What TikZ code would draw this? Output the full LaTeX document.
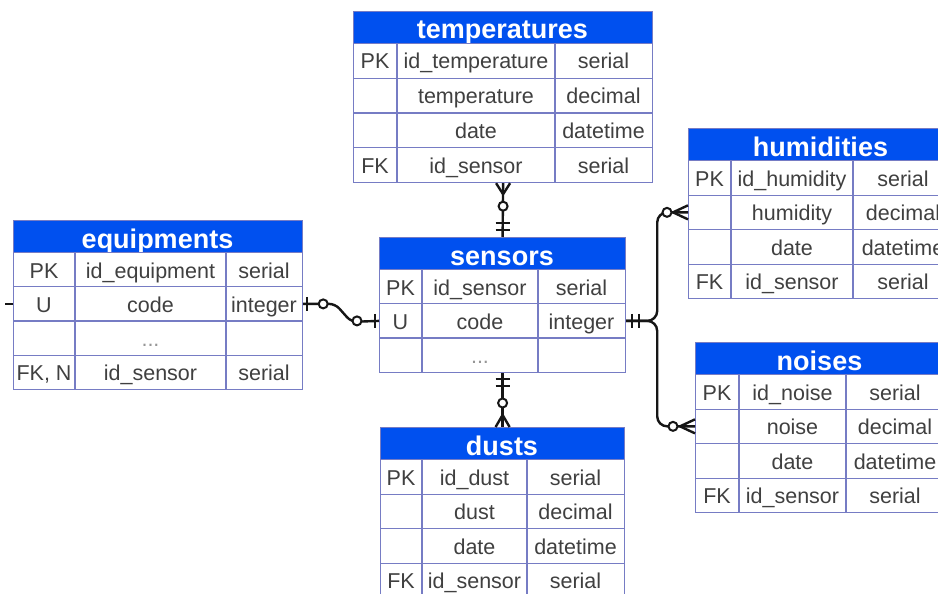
\documentclass[tikz,border=0pt]{standalone}
\usepackage{fontspec}
\setmainfont{Liberation Sans}
\usetikzlibrary{calc}
\definecolor{titleblue}{RGB}{0,80,239}
\definecolor{gridc}{RGB}{118,124,196}
\definecolor{txt}{RGB}{64,64,64}
\definecolor{lnk}{RGB}{22,22,22}

\tikzset{
  titlebox/.style={draw=gridc, fill=titleblue, line width=1.2pt, inner sep=0pt, anchor=north west, minimum height=32pt},
  rowbox/.style={draw=gridc, fill=white, line width=1.2pt, inner sep=0pt, anchor=north west},
  gridline/.style={draw=gridc, line width=1.2pt},
  cell/.style={font=\fontsize{21.5}{22}\selectfont, text=txt, anchor=base, inner sep=0pt},
  ttl/.style={font=\bfseries\fontsize{27}{28}\selectfont, text=white, anchor=base, inner sep=0pt},
  conn/.style={draw=lnk, line width=2.4pt},
  barline/.style={draw=lnk, line width=2pt},
  ring/.style={circle, draw=lnk, fill=white, line width=2pt, minimum size=9pt, inner sep=0pt},
}

\newcommand\ertable[9]{%
  \pgfmathsetmacro\tw{#4-#3}%
  \pgfmathsetmacro\cx{(#3+#4)/2}%
  \node[titlebox, minimum width=\tw pt] (#1) at (#3,#5) {};
  \node[ttl] (#1-t) at (\cx,#5+28) {#2};
  \foreach [count=\i] \k/\f/\t in {#9} {
    \pgfmathsetmacro\ry{#5+32+(\i-1)*#8}
    \node[rowbox, minimum width=\tw pt, minimum height=#8 pt] (#1-\i) at (#3,\ry) {};
    \draw[gridline] (#6,\ry) -- ++(0,#8);
    \draw[gridline] (#7,\ry) -- ++(0,#8);
    \node[cell] (#1-\i-k) at ({(#3+#6)/2},\ry+26) {\k};
    \node[cell] (#1-\i-f) at ({(#6+#7)/2},\ry+26) {\f};
    \node[cell] (#1-\i-t) at ({(#7+#4)/2},\ry+26) {\t};
  }
}

\begin{document}
\begin{tikzpicture}[x=1pt,y=-1pt]
\fill[white] (0,0) rectangle (938,594);
\useasboundingbox (0,0) rectangle (938,594);
\clip (0,0) rectangle (938,594);

\ertable{temp}{temperatures}{353}{652}{11}{397}{555}{34.75}{PK/id\_temperature/serial,{}/temperature/decimal,{}/date/datetime,FK/id\_sensor/serial}
\ertable{equip}{equipments}{13}{302}{220}{75}{226}{34.2}{PK/id\_equipment/serial,U/code/integer,{}/\textcolor{txt!55}{...}/{},{FK, N}/id\_sensor/serial}
\ertable{sens}{sensors}{379}{625}{237}{422}{538}{34.2}{PK/id\_sensor/serial,U/code/integer,{}/\textcolor{txt!55}{...}/{}}
\ertable{dust}{dusts}{380}{624}{427}{422}{527}{34.5}{PK/id\_dust/serial,{}/dust/decimal,{}/date/datetime,FK/id\_sensor/serial}
\ertable{hum}{humidities}{688}{953}{128}{731}{853}{34.5}{PK/id\_humidity/serial,{}/humidity/decimal,{}/date/datetime,FK/id\_sensor/serial}
\ertable{noise}{noises}{695}{944}{342}{739}{846}{34.5}{PK/id\_noise/serial,{}/noise/decimal,{}/date/datetime,FK/id\_sensor/serial}

% temperatures -- sensors
\draw[conn] (temp-4.south) -- (sens.north);
\draw[conn] ($(temp-4.south)+(0,11)$) -- ($(temp-4.south)+(-7,0)$);
\draw[conn] ($(temp-4.south)+(0,11)$) -- ($(temp-4.south)+(7,0)$);
\node[ring] (r1) at ($(temp-4.south)+(0,23)$) {};
\draw[barline] ($(sens.north)+(-7,-14)$) -- ++(14,0);
\draw[barline] ($(sens.north)+(-7,-7)$) -- ++(14,0);

% sensors -- dusts
\draw[conn] (sens-3.south) -- (dust.north);
\draw[barline] ($(sens-3.south)+(-7,6)$) -- ++(14,0);
\draw[barline] ($(sens-3.south)+(-7,13)$) -- ++(14,0);
\node[ring] (r2) at ($(dust.north)+(0,-24)$) {};
\draw[conn] ($(dust.north)+(0,-12)$) -- ($(dust.north)+(-7,0)$);
\draw[conn] ($(dust.north)+(0,-12)$) -- ($(dust.north)+(7,0)$);

% equipments -- sensors
\draw[conn, rounded corners=6pt] (equip-2.east) -- ++(32,0) -- ++(16,18) -- (sens-2.west);
\draw[barline] ($(equip-2.east)+(4,-7)$) -- ++(0,14);
\node[ring] (r3) at ($(equip-2.east)+(20,0)$) {};
\node[ring] (r4) at ($(sens-2.west)+(-22,0)$) {};
\draw[barline] ($(sens-2.west)+(-4,-7)$) -- ++(0,14);

% stub at left of equipments
\draw[conn] (equip-2.west) -- ++(-8,0);

% sensors -- humidities / noises
\draw[conn, rounded corners=10pt] (sens-2.east) -- ++(31,0) |- (hum-2.west);
\draw[conn, rounded corners=10pt] (sens-2.east) -- ++(31,0) |- (noise-2.west);
\draw[barline] ($(sens-2.east)+(6,-7)$) -- ++(0,14);
\draw[barline] ($(sens-2.east)+(13,-7)$) -- ++(0,14);
\node[ring] (r5) at ($(hum-2.west)+(-21,0)$) {};
\draw[conn] ($(hum-2.west)+(-15,0)$) -- ($(hum-2.west)+(0,-7)$);
\draw[conn] ($(hum-2.west)+(-15,0)$) -- ($(hum-2.west)+(0,7)$);
\node[ring] (r6) at ($(noise-2.west)+(-22,0)$) {};
\draw[conn] ($(noise-2.west)+(-15,0)$) -- ($(noise-2.west)+(0,-7)$);
\draw[conn] ($(noise-2.west)+(-15,0)$) -- ($(noise-2.west)+(0,7)$);
\end{tikzpicture}
\end{document}
